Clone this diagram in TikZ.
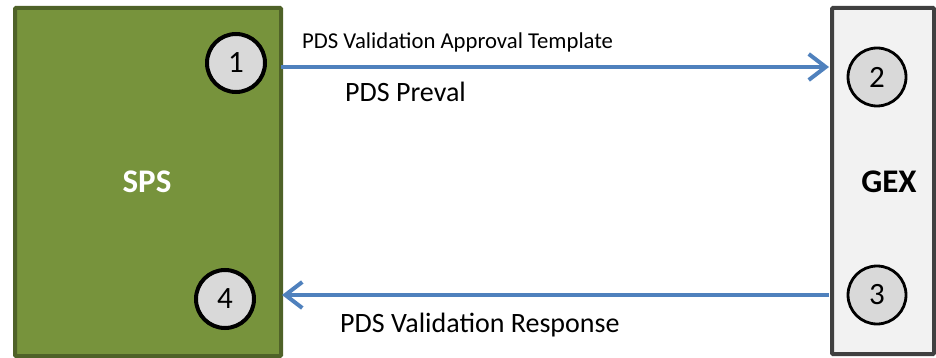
\documentclass[tikz,border=0pt]{standalone}
\usepackage{fontspec}
\setmainfont{Carlito}
\usetikzlibrary{arrows.meta}
\definecolor{spsfill}{HTML}{77933C}
\definecolor{spsline}{HTML}{4F6228}
\definecolor{gexfill}{HTML}{F2F2F2}
\definecolor{gexline}{HTML}{404040}
\definecolor{arrowblue}{HTML}{4F81BD}
\definecolor{circfill}{HTML}{D9D9D9}
\tikzset{
  sysbox/.style={draw, line width=4pt, rounded corners=1pt},
  numcirc/.style={circle, draw=black, fill=circfill, line width=4pt, minimum size=58pt, inner sep=0pt, font=\fontsize{31}{34}\selectfont},
  numcircthin/.style={numcirc, line width=2.8pt},
  flow/.style={draw=arrowblue, line width=4pt, -{Straight Barb[length=17pt,width=26pt,line width=4pt]}},
  lbl/.style={font=\fontsize{28}{30}\selectfont, inner sep=0pt},
}
\begin{document}
\begin{tikzpicture}[x=1pt,y=-1pt]
\useasboundingbox (0,0) rectangle (936,358);
\node[sysbox, draw=spsline, fill=spsfill, minimum width=266pt, minimum height=348pt, anchor=north west] (sps) at (13,6) {};
\node[sysbox, draw=gexline, fill=gexfill, minimum width=102pt, minimum height=346pt, anchor=north west] (gex) at (830,6) {};
\node[font=\bfseries\fontsize{33}{36}\selectfont, text=white] (spst) at (147,182) {SPS};
\node[font=\bfseries\fontsize{33}{36}\selectfont] (gext) at (889,182) {GEX};
\node[numcirc] (c1) at (236,63) {1};
\node[numcircthin] (c2) at (877,77) {2};
\node[numcircthin] (c3) at (877,295) {3};
\node[numcirc] (c4) at (225,299) {4};
\coordinate (a1s) at (281,67);
\coordinate (a1e) at (829,67);
\coordinate (a2s) at (829,295);
\coordinate (a2e) at (282,295);
\draw[flow] (a1s) -- (a1e);
\draw[flow] (a2s) -- (a2e);
\node[font=\fontsize{22.7}{24}\selectfont, anchor=west, inner sep=0pt] (t1) at (302,42) {PDS Validation Approval Template};
\node[lbl, anchor=west] (t2) at (345,92) {PDS Preval};
\node[lbl, anchor=west] (t3) at (340,325) {PDS Validation Response};
\end{tikzpicture}
\end{document}
